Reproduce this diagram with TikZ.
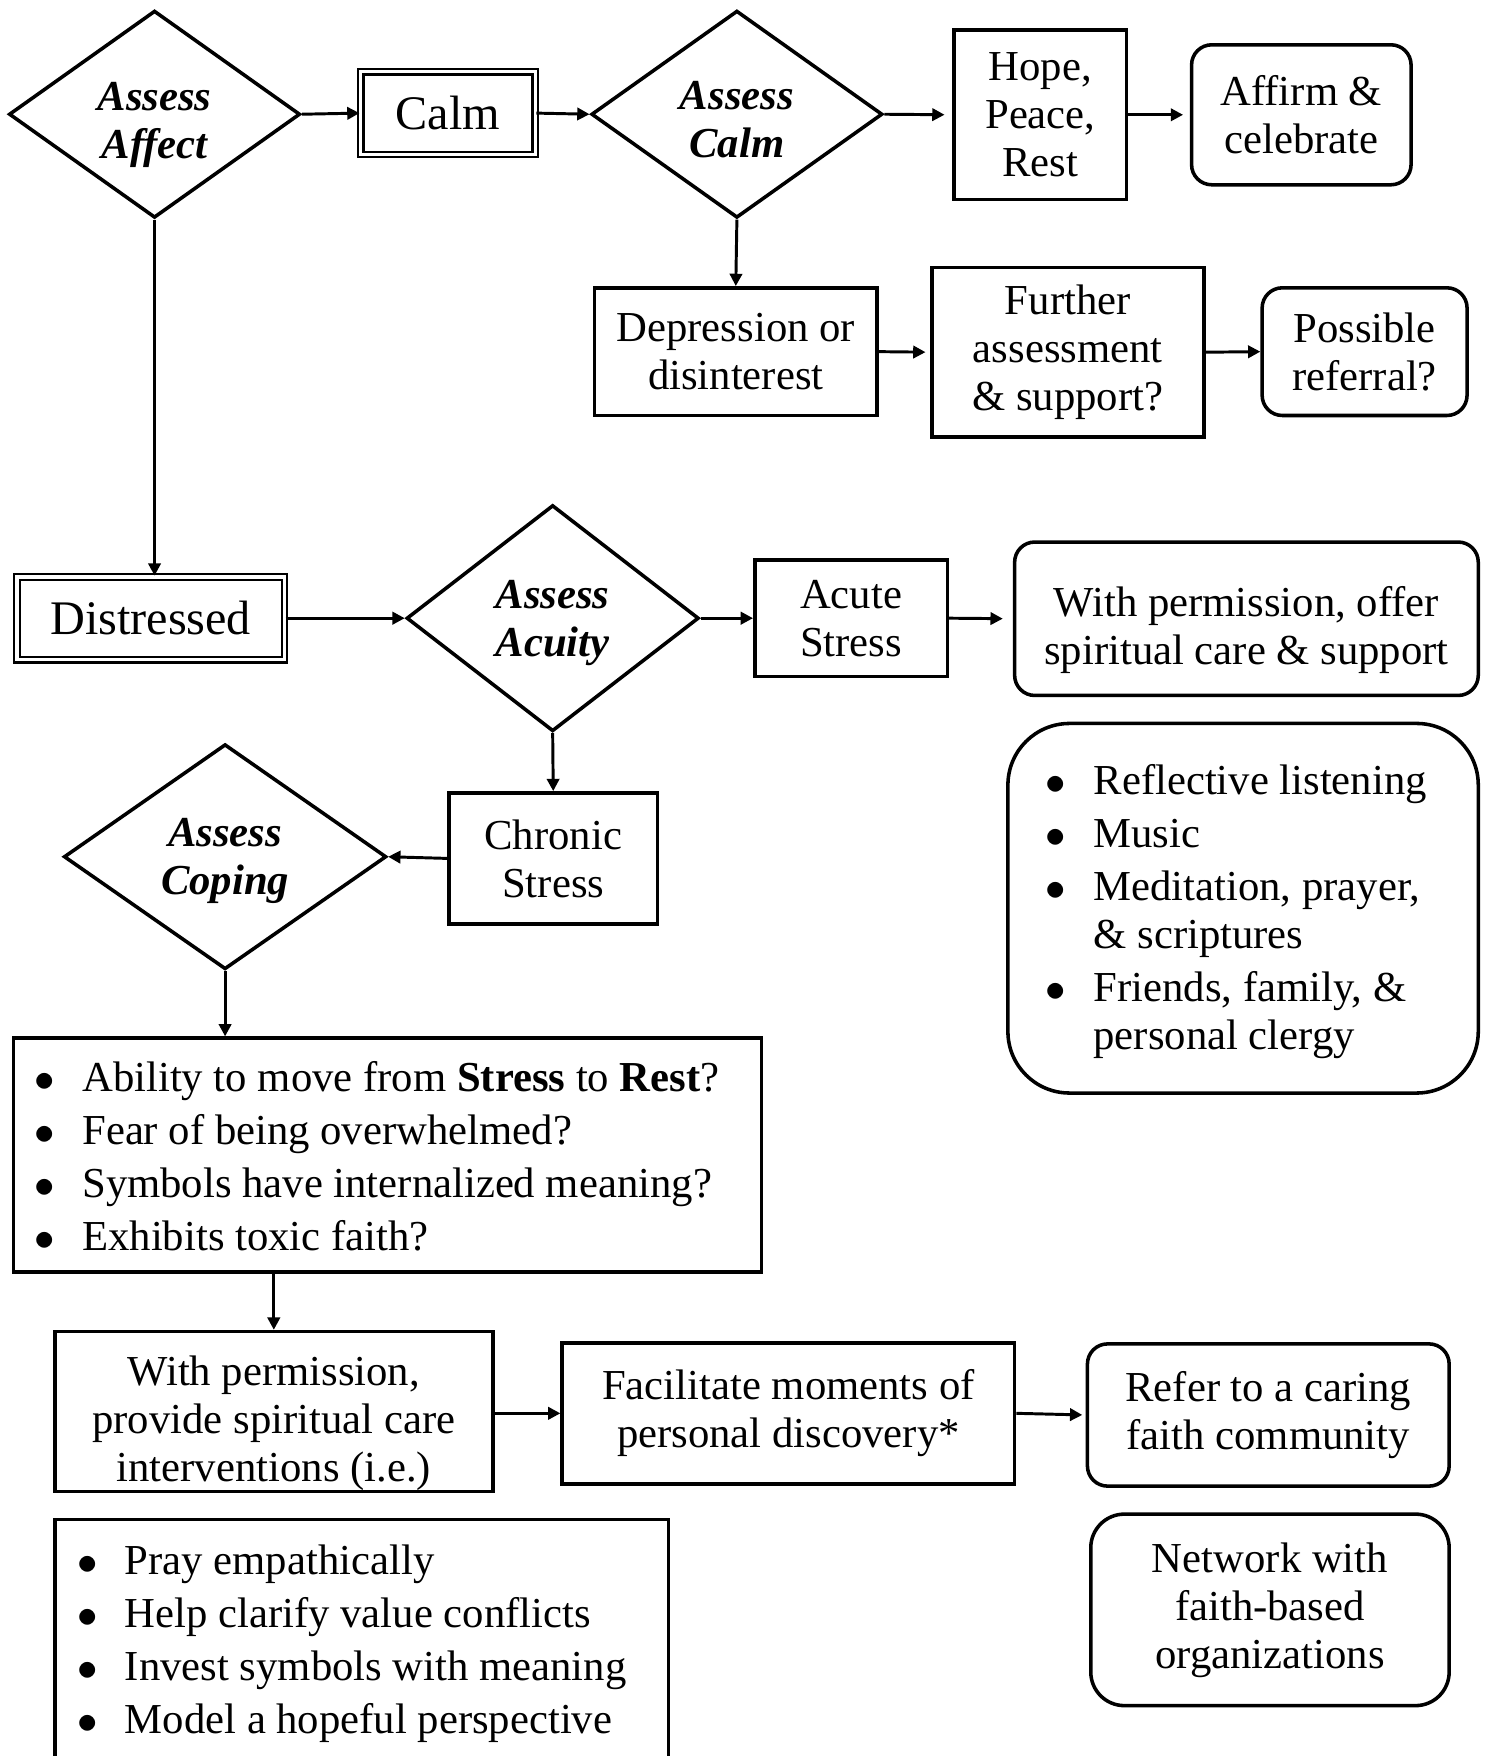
\documentclass[tikz,border=0pt]{standalone}
\usepackage{fontspec}
\setmainfont{Liberation Serif}
\usetikzlibrary{
  positioning,
  arrows.meta,
  shapes.geometric
}
\newcommand{\bullist}[1]{\begin{tabular}{@{}l@{\hspace{13.9pt}}l@{}}#1\end{tabular}}

\begin{document}
\begin{tikzpicture}[x=0.02cm,y=-0.02cm,
  every node/.style={font=\fontsize{21.7}{24.4}\selectfont,align=center,inner sep=0pt},
  boxsize/.style 2 args={minimum width=#1*0.02cm,minimum height=#2*0.02cm},
  box/.style={draw,line width=1.8pt},
  dbox/.style={draw,double,double distance=1.8pt,line width=1.1pt,
    font=\fontsize{24.5}{27}\selectfont},
  rbox/.style={draw,line width=1.8pt,rounded corners=0.36cm},
  choice/.style={draw,diamond,aspect=1.4,line width=1.8pt},
  dtext/.style={font=\fontsize{21.7}{24.4}\selectfont\bfseries\itshape},
  link/.style={-{Triangle[length=0.22cm,width=0.22cm]},line width=1.5pt}]
  \clip (0,0) rectangle (1328,1568);
  \useasboundingbox (0,0) rectangle (1328,1568);
  % 第一行
  \node[choice,boxsize={260}{185}] (affect) at (138,102) {};
  \node[dtext] (affecttxt) at ([yshift=-0.2cm]affect.center) {Assess\\Affect};
  \node[dbox,boxsize={156}{74}] (calm) at (400,101) {Calm};
  \node[choice,boxsize={260}{185}] (acalm) at (658,102) {};
  \node[dtext] (acalmtxt) at ([yshift=-0.1cm]acalm.center) {Assess\\Calm};
  \node[box,boxsize={154}{151}] (hope) at (929,102.5) {Hope,\\Peace,\\Rest};
  \node[rbox,boxsize={196}{125}] (affirm) at (1162,102.5) {Affirm \&\\celebrate};
  % 第二行
  \node[box,boxsize={252}{114}] (depr) at (657,314) {Depression or\\disinterest};
  \node[box,boxsize={243}{151}] (further) at (953.5,314.5) {Further\\assessment\\\& support?};
  \node[rbox,boxsize={183}{114}] (referral) at (1218.5,314) {Possible\\referral?};
  % Distressed 一支
  \node[dbox,boxsize={239}{74}] (distr) at (134.5,552) {Distressed};
  \node[choice,boxsize={261}{202}] (acuity) at (493.5,552) {};
  \node[dtext] (acuitytxt) at ([yshift=-0.09cm]acuity.center) {Assess\\Acuity};
  \node[box,boxsize={172}{104}] (acute) at (760,552) {Acute\\Stress};
  \node[rbox,boxsize={414}{137}] (offer) at (1113,552.5) {};
  \node (offertxt) at ([yshift=-0.2cm]offer.center)
    {With permission, offer\\spiritual care \& support};
  \node[rbox,rounded corners=1.1cm,boxsize={420}{330}] (listen) at (1110,811) {};
  \node[anchor=west] (listentxt) at (933.5,815)
    {\bullist{$\bullet$ & Reflective listening\\[2.5pt]
      $\bullet$ & Music\\[2.5pt]
      $\bullet$ & Meditation, prayer,\\
      & \& scriptures\\[2.5pt]
      $\bullet$ & Friends, family, \&\\
      & personal clergy}};
  \node[box,boxsize={186}{117}] (chronic) at (494,766.5) {Chronic\\Stress};
  \node[choice,boxsize={288}{201}] (coping) at (201,765) {};
  \node[dtext] (copingtxt) at ([yshift=-0.07cm]coping.center) {Assess\\Coping};
  \node[box,boxsize={668}{209}] (ask) at (346,1031.5) {};
  \node[anchor=west] (asktxt) at (30.5,1037)
    {\bullist{$\bullet$ & Ability to move from \textbf{Stress} to \textbf{Rest}?\\[2.5pt]
      $\bullet$ & Fear of being overwhelmed?\\[2.5pt]
      $\bullet$ & Symbols have internalized meaning?\\[2.5pt]
      $\bullet$ & Exhibits toxic faith?}};
  % 最下面
  \node[box,boxsize={391}{143}] (provide) at (244.5,1260.5) {};
  \node (providetxt) at ([yshift=-0.2cm]provide.center)
    {With permission,\\provide spiritual care\\interventions (i.e.)};
  \node[box,boxsize={404}{126}] (facil) at (704,1262)
    {Facilitate moments of\\personal discovery*};
  \node[rbox,boxsize={323}{127}] (refer) at (1132.5,1263.5)
    {Refer to a caring\\faith community};
  \node[rbox,rounded corners=0.6cm,boxsize={320}{171}] (network) at (1134,1437.5)
    {Network with\\faith-based\\organizations};
  \node[box,boxsize={548}{260}] (model) at (323,1487) {};
  \node[anchor=west] (modeltxt) at (68.5,1468)
    {\bullist{$\bullet$ & Pray empathically\\[2.5pt]
      $\bullet$ & Help clarify value conflicts\\[2.5pt]
      $\bullet$ & Invest symbols with meaning\\[2.5pt]
      $\bullet$ & Model a hopeful perspective}};
  % 箭头
  \draw[link] (affect.east) -- (calm.west);
  \draw[link] (calm.east) -- (acalm.west);
  \draw[link,shorten >=0.14cm] (acalm.east) -- (hope.west);
  \draw[link,shorten >=0.12cm] (hope.east) -- (affirm.west);
  \draw[link] (acalm.south) -- (depr.north);
  \draw[link,shorten >=0.08cm] (depr.east) -- (further.west);
  \draw[link] (further.east) -- (referral.west);
  \draw[link] (affect.south) -- (affect.south |- distr.north);
  \draw[link] (distr.east) -- (acuity.west);
  \draw[link] (acuity.east) -- (acute.west);
  \draw[link,shorten >=0.18cm] (acute.east) -- (offer.west);
  \draw[link] (acuity.south) -- (chronic.north);
  \draw[link] (chronic.west) -- (coping.east);
  \draw[link] (coping.south) -- (coping.south |- ask.north);
  \draw[link] (provide.north |- ask.south) -- (provide.north);
  \draw[link] (provide.east |- facil.west) -- (facil.west);
  \draw[link,shorten >=0.06cm] (facil.east) -- (refer.west);
\end{tikzpicture}
\end{document}
